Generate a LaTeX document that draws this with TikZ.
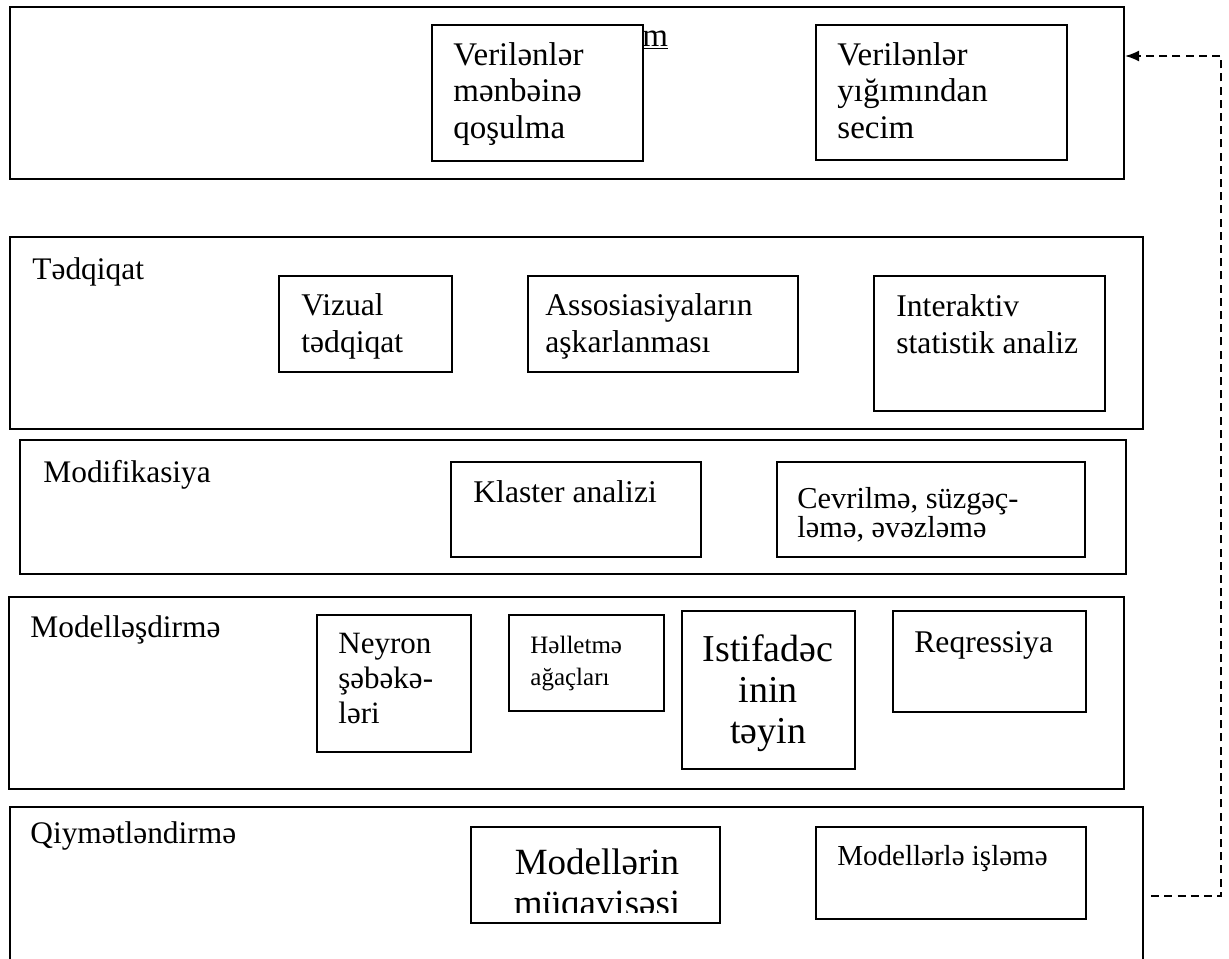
\documentclass[tikz,border=0pt]{standalone}
\usepackage{fontspec}
\setmainfont{Liberation Serif}
\usetikzlibrary{arrows.meta,fit}

\newcommand{\fs}[2]{\fontsize{#1}{#2}\selectfont}

\begin{document}
\begin{tikzpicture}[x=0.5pt,y=-0.5pt,
  frame/.style={draw,line width=1.15pt,inner sep=0pt,fill=white},
  item/.style={draw,line width=0.9pt,inner sep=0pt,fill=white},
  txt/.style={anchor=base west,inner sep=0pt,align=left,font=\fs{15.8}{18.5}},
  head/.style={txt,font=\fs{15.7}{18.5}},
  feedback/.style={dash pattern=on 4pt off 2.6pt,line width=0.7pt,-{Latex[length=7pt,width=5.5pt]}}]
\path[use as bounding box] (0,0) rectangle (1229,958);
\clip (0,0) rectangle (1229,958);

\node[frame,fit={(10,7) (1124,179)}] (secim) {};
\node[txt,font=\fs{16.5}{18.25}] (secim-t) at (642,46) {\underline{m}};
\node[item,fit={(432,25) (643,161)}] (qosulma) {};
\node[txt,font=\fs{16.5}{18.25}] (qosulma-t) at (453,138) {Verilənlər\\mənbəinə\\qoşulma};
\node[item,fit={(816,25) (1067,160)}] (yigim) {};
\node[txt,font=\fs{16.5}{18.25}] (yigim-t) at (837,138) {Verilənlər\\yığımından\\secim};

\node[frame,fit={(10,237) (1143,429)}] (tedqiqat) {};
\node[head] (tedqiqat-t) at (32,279) {Tədqiqat};
\node[item,fit={(279,276) (452,372)}] (vizual) {};
\node[txt] (vizual-t) at (301,352) {Vizual\\tədqiqat};
\node[item,fit={(528,276) (798,372)}] (assos) {};
\node[txt] (assos-t) at (545,352) {Assosiasiyaların\\aşkarlanması};
\node[item,fit={(874,276) (1105,411)}] (interaktiv) {};
\node[txt] (interaktiv-t) at (896,353) {Interaktiv\\statistik analiz};

\node[frame,fit={(20,440) (1126,574)}] (modif) {};
\node[head] (modif-t) at (43,482) {Modifikasiya};
\node[item,fit={(451,462) (701,557)}] (klaster) {};
\node[txt] (klaster-t) at (473,502) {Klaster analizi};
\node[item,fit={(777,462) (1085,557)}] (cevrilme) {};
\node[txt,font=\fs{15.2}{14.5}] (cevrilme-t) at (797,537) {Cevrilmə, süzgəç-\\ləmə, əvəzləmə};

\node[frame,fit={(9,597) (1124,789)}] (modell) {};
\node[head] (modell-t) at (30,637) {Modelləşdirmə};
\node[item,fit={(317,615) (471,752)}] (neyron) {};
\node[txt,font=\fs{15.5}{17.5}] (neyron-t) at (338,723) {Neyron\\şəbəkə-\\ləri};
\node[item,fit={(509,615) (664,711)}] (helletme) {};
\node[txt,font=\fs{12.5}{16}] (helletme-t) at (530,685) {Həlletmə\\ağaçları};
\node[item,fit={(682,611) (855,769)}] (istifade) {};
\node[anchor=base,inner sep=0pt,align=center,font=\fs{19}{20.5}] (istifade-t) at (768,743) {Istifadəc\\inin\\təyin};
\node[item,fit={(893,611) (1086,712)}] (reqressiya) {};
\node[txt] (reqressiya-t) at (914,652) {Reqressiya};

\node[frame,fit={(10,807) (1143,975)}] (qiymet) {};
\node[head] (qiymet-t) at (30,843) {Qiymətləndirmə};
\node[item,fit={(471,827) (720,923)}] (muqayise) {};
\begin{scope}
\clip (473,829) rectangle (718,912);
\node[anchor=base,inner sep=0pt,align=center,font=\fs{18.5}{20.5}] (muqayise-t) at (597,915) {Modellərin\\müqavisəsi};
\end{scope}
\node[item,fit={(816,827) (1086,919)}] (isleme) {};
\node[txt,font=\fs{14.5}{17}] (isleme-t) at (837,865) {Modellərlə işləmə};

\coordinate (fbdown) at (1221,896);
\coordinate (fbup) at (1221,56);
\draw[feedback,shorten <=3.5pt] (qiymet.east |- fbdown) -- (fbdown) -- (fbup) -- (secim.east |- fbup);
\end{tikzpicture}
\end{document}
